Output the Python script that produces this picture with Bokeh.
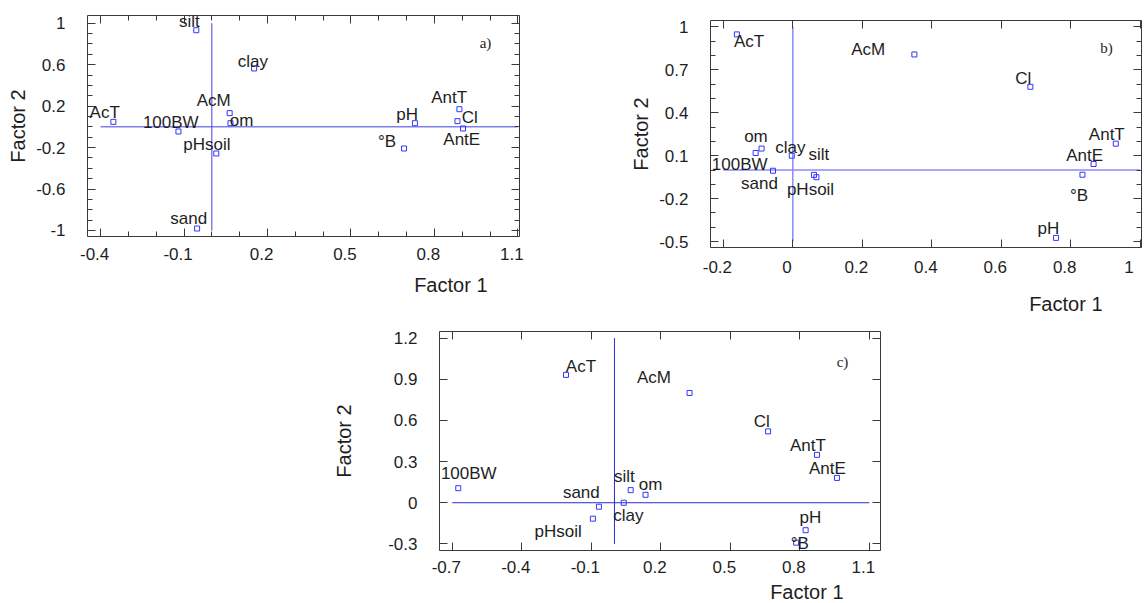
from bokeh.plotting import figure
from bokeh.models import (ColumnDataSource, FixedTicker, LinearAxis, Range1d, Label,
                          LabelSet, PrintfTickFormatter, CustomJSTickFormatter, Spacer, Title)
from bokeh.layouts import column, row
from bokeh.core.properties import value
from bokeh.embed import file_html
from bokeh.resources import INLINE

# ---------------- data ----------------
variables = ["AcT", "AcM", "Cl", "AntT", "AntE", "°B", "pH",
             "100BW", "om", "clay", "silt", "sand", "pHsoil"]

# panel a)
factor1_a = [-0.354, 0.064, 0.883, 0.890, 0.903, 0.691, 0.730,
             -0.120, 0.067, 0.152, -0.056, -0.053, 0.016]
factor2_a = [0.048, 0.132, 0.055, 0.170, -0.016, -0.209, 0.035,
             -0.045, 0.035, 0.563, 0.932, -0.981, -0.257]
xticks_a = [-0.4, -0.1, 0.2, 0.5, 0.8, 1.1]
xminor_a = [-0.4, -0.3, -0.2, -0.1, 0.0, 0.1, 0.2, 0.3, 0.4, 0.5, 0.6, 0.7, 0.8, 0.9, 1.0, 1.1]
yticks_a = [-1, -0.6, -0.2, 0.2, 0.6, 1]
yminor_a = [-1.0, -0.9, -0.8, -0.7, -0.6, -0.5, -0.4, -0.3, -0.2, -0.1, 0.0,
            0.1, 0.2, 0.3, 0.4, 0.5, 0.6, 0.7, 0.8, 0.9, 1.0]

# panel b)
factor1_b = [-0.161, 0.350, 0.684, 0.930, 0.866, 0.834, 0.758,
             -0.107, -0.090, -0.003, 0.061, -0.057, 0.068]
factor2_b = [0.947, 0.807, 0.581, 0.184, 0.042, -0.033, -0.474,
             0.119, 0.150, 0.100, -0.034, -0.005, -0.050]
xticks_b = [-0.2, 0, 0.2, 0.4, 0.6, 0.8, 1]
xminor_b = []
yticks_b = [-0.5, -0.2, 0.1, 0.4, 0.7, 1]
yminor_b = [-0.5, -0.4, -0.3, -0.2, -0.1, 0.0, 0.1, 0.2, 0.3, 0.4, 0.5, 0.6, 0.7, 0.8, 0.9, 1.0]

# panel c)
factor1_c = [-0.209, 0.324, 0.663, 0.874, 0.960, 0.784, 0.825,
             -0.674, 0.134, 0.040, 0.070, -0.067, -0.093]
factor2_c = [0.932, 0.800, 0.520, 0.349, 0.181, -0.291, -0.200,
             0.106, 0.058, 0.000, 0.092, -0.029, -0.116]
xticks_c = [-0.7, -0.4, -0.1, 0.2, 0.5, 0.8, 1.1]
xminor_c = []
yticks_c = [-0.3, 0, 0.3, 0.6, 0.9, 1.2]
yminor_c = []

origin = 0.0

# ---------------- layout / style (screen px) ----------------
# label offsets (dx right, dy down) relative to each point, in variable order
lab_dx_a = [-8.7, -16, 12.3, -10.3, -1.3, -17, -7.7, -7.7, 11, -1.3, -7, -8.3, -9.3]
lab_dy_a = [-3.7, -7, 2.3, -6.7, 16.3, -1, -3.3, -3.3, 3, -1, -3.3, -5, -3.3]
lab_dx_b = [12.2, -46.2, -7, -9, -9, -3.5, -7.6, -16, -5.6, -1.4, 4.9, -13.6, -5.9]
lab_dy_b = [12.5, 1, -3.1, -3.8, -2.8, 26.4, -3.5, 17, -7, -2.8, -14.6, 18.4, 18.1]
lab_dx_c = [14.9, -35.5, -6.4, -9.1, -9.5, 3.7, 4.7, 10.5, 5.1, 4.7, -6.4, -17.6, -34.8]
lab_dy_c = [-2.4, -10.1, -4.4, -4.1, -3.7, 6.1, -6.8, -9.1, -5.1, 18.3, -8.1, -8.8, 17.9]

FONT = "Liberation Sans"
TXT = "#1e1e1e"
FRAME = "#3a3a3a"
MARK = "#3434ff"
XLAB_PAD = "\u2002\u2009"   # shifts x tick labels slightly left of their ticks, as in the original


def make_panel(tag, f1, f2, xt, xm, yt, ym, xr, yr, dims, ref_color, ref_width,
               dx, dy, f1_style, tag_off, ylab_standoff, xlab_standoff):
    width, height, bl, br, bt, bb = dims
    p = figure(width=width, height=height, x_range=Range1d(*xr), y_range=Range1d(*yr),
               output_backend="svg", toolbar_location=None,
               min_border_left=bl, min_border_right=br,
               min_border_top=bt, min_border_bottom=bb)
    try:
        p.frame_align = False
    except AttributeError:
        pass
    p.grid.visible = False
    p.outline_line_color = None
    p.background_fill_color = "white"
    p.border_fill_color = "white"

    p.add_layout(LinearAxis(), "above")
    p.add_layout(LinearAxis(), "right")

    for ax in p.xaxis:
        ax.ticker = FixedTicker(ticks=xt, minor_ticks=xm)
    for ax in p.yaxis:
        ax.ticker = FixedTicker(ticks=yt, minor_ticks=ym)

    for ax in p.axis:
        ax.axis_line_color = FRAME
        ax.axis_line_width = 1
        ax.major_tick_line_color = FRAME
        ax.minor_tick_line_color = FRAME
        ax.major_tick_in = 8
        ax.major_tick_out = 0
        ax.minor_tick_in = 5
        ax.minor_tick_out = 0
        ax.major_label_text_font = FONT
        ax.major_label_text_font_size = "17px"
        ax.major_label_text_color = TXT
        ax.formatter = PrintfTickFormatter(format="%g")

    for ax in (p.above[0], p.right[0]):
        ax.formatter = CustomJSTickFormatter(code="return ''")
        ax.major_label_text_font_size = "0px"
        ax.major_label_standoff = 0

    xb = p.below[0]
    xb.formatter = PrintfTickFormatter(format="%g" + XLAB_PAD)
    xb.major_label_standoff = xlab_standoff
    yl = p.left[0]
    yl.major_label_standoff = 22
    yl.axis_label = "Factor 2"
    yl.axis_label_text_font = FONT
    yl.axis_label_text_font_size = "20px"
    yl.axis_label_text_font_style = "normal"
    yl.axis_label_text_color = TXT
    yl.axis_label_standoff = ylab_standoff

    # x-axis title, right-aligned under the axis
    t_offset, t_standoff, t_valign = f1_style
    p.add_layout(Title(text="Factor 1", align="right", offset=t_offset, standoff=t_standoff,
                       vertical_align=t_valign,
                       text_font=FONT, text_font_size="20px", text_font_style="normal",
                       text_color=TXT), "below")

    # reference lines through the origin
    p.segment(x0=[xt[0], origin], y0=[origin, yt[0]], x1=[xt[-1], origin], y1=[origin, yt[-1]],
              line_color=ref_color, line_width=ref_width)

    src = ColumnDataSource(dict(x=f1, y=f2, name=variables, dx=dx, dy=[-v for v in dy]))
    p.scatter("x", "y", source=src, marker="square", size=5, fill_color=None,
              line_color=MARK, line_width=1)
    p.add_layout(LabelSet(x="x", y="y", text="name", x_offset="dx", y_offset="dy", source=src,
                          text_font=value(FONT), text_font_size="17px", text_color=TXT,
                          text_align="center", text_baseline="alphabetic"))

    p.add_layout(Label(x=xr[1], y=yr[1], x_offset=tag_off[0], y_offset=-tag_off[1],
                       text=tag, text_font="Liberation Serif", text_font_size="15px",
                       text_color=TXT, text_align="center", text_baseline="middle"))
    return p


pa = make_panel("a)", factor1_a, factor2_a, xticks_a, xminor_a, yticks_a, yminor_a,
                (-0.447, 1.106), (-1.058, 1.074), (540, 326, 87, 21, 15, 90),
                "#4040e0", 1, lab_dx_a, lab_dy_a, (32, 11, "bottom"), (-34, 27), 4, 8)
pb = make_panel("b)", factor1_b, factor2_b, xticks_b, xminor_b, yticks_b, yminor_b,
                (-0.237, 1.004), (-0.541, 1.044), (605, 326, 170, 4, 20, 77),
                "#8a8aff", 1.5, lab_dx_b, lab_dy_b, (39, 23, "bottom"), (-35, 27), 4, 10)
pc = make_panel("c)", factor1_c, factor2_c, xticks_c, xminor_c, yticks_c, yminor_c,
                (-0.755, 1.148), (-0.348, 1.248), (560, 277, 108, 10, 5, 51),
                "#2a2ad8", 1, lab_dx_c, lab_dy_c, (37, 0, "middle"), (-38, 30), 30, 7)

layout = column(row(pa, pb), row(Spacer(width=330, height=277), pc))

open("out.html", "w").write(file_html(layout, INLINE))
